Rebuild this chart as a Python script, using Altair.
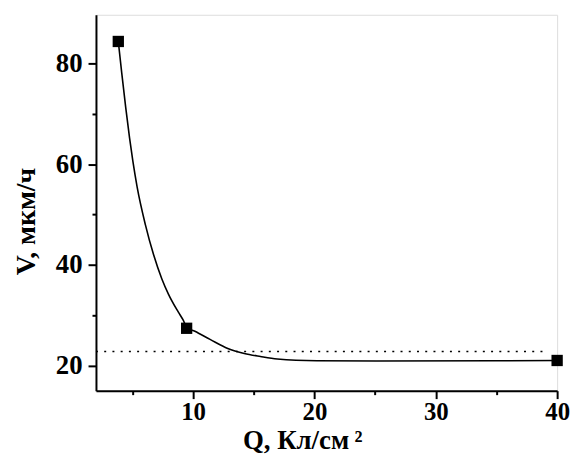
import altair as alt
import pandas as pd

# measured points
pt_q = [3.84, 9.47, 40.0]
pt_v = [84.4, 27.4, 21.0]

# fitted curve
curve_q = [3.84, 4.12, 4.45, 4.77, 5.04, 5.39, 6.07, 6.75, 7.43, 7.97, 8.79, 9.19, 9.47,
           10.15, 11.4, 12.86, 14.22, 15.55, 16.94, 20.2, 25.1, 40.0]
curve_v = [84.4, 78.2, 71.3, 65.2, 60.6, 55.5, 48.0, 42.0, 37.2, 34.2, 30.6, 29.0, 27.6,
           26.8, 25.2, 23.4, 22.4, 21.8, 21.3, 20.95, 20.9, 21.0]

# dotted reference level
ref_v = [22.8]
ref_q0 = [2.0]
ref_q1 = [39.2]

x_ticks = [5, 10, 15, 20, 25, 30, 35, 40]
y_ticks = [20, 30, 40, 50, 60, 70, 80]

FONT = "Liberation Serif"

pts = pd.DataFrame({"q": pt_q, "v": pt_v})
crv = pd.DataFrame({"q": curve_q, "v": curve_v})
ref = pd.DataFrame({"q": ref_q0, "q2": ref_q1, "v": ref_v})

xs = alt.Scale(domain=[2, 40], nice=False, zero=False)
ys = alt.Scale(domain=[15, 89.7], nice=False, zero=False)

x_axis = alt.Axis(
    title="Q, Кл/см\u2009²", values=x_ticks,
    labelExpr="datum.value % 10 === 0 ? datum.label : ''",
    tickSize={"condition": {"test": "datum.value % 10 === 0", "value": 8}, "value": 4},
    grid=False, domainColor="black", domainWidth=2, tickColor="black", tickWidth=2,
    labelFont=FONT, labelFontSize=25, labelFontWeight="bold", labelColor="black",
    labelPadding=1, labelFlush=False,
    titleFont=FONT, titleFontSize=27, titleFontWeight="bold", titleColor="black",
    titleX=208, titleY=58, titleBaseline="alphabetic", titleAnchor="middle",
)
y_axis = alt.Axis(
    title="V, мкм/ч", values=y_ticks,
    labelExpr="datum.value % 20 === 0 ? datum.label : ''",
    tickSize={"condition": {"test": "datum.value % 20 === 0", "value": 8}, "value": 4},
    grid=False, domainColor="black", domainWidth=2, tickColor="black", tickWidth=2,
    labelFont=FONT, labelFontSize=27, labelFontWeight="bold", labelColor="black",
    labelPadding=6, labelFlush=False,
    titleFont=FONT, titleFontSize=28, titleFontWeight="bold", titleColor="black",
    titleX=-62, titleY=208, titleBaseline="alphabetic", titleAngle=-90,
)

line = alt.Chart(crv).mark_line(color="black", strokeWidth=1.6, interpolate="monotone").encode(
    x=alt.X("q:Q", scale=xs, axis=x_axis),
    y=alt.Y("v:Q", scale=ys, axis=y_axis),
    order="q:Q",
)
dots = alt.Chart(ref).mark_rule(color="black", strokeWidth=1.6, strokeDash=[2, 6.3]).encode(
    x="q:Q", x2="q2:Q", y="v:Q"
)
squares = alt.Chart(pts).mark_square(color="black", size=130, opacity=1).encode(
    x="q:Q", y="v:Q"
)

chart = alt.layer(dots, line, squares).properties(
    width=465, height=379,
    autosize=alt.AutoSizeParams(type="none"),
    padding={"left": 88.7, "top": 5, "right": 16, "bottom": 62},
).configure_view(stroke=None).configure(background="white")

chart.save("out.html", embed_options={"renderer": "svg", "actions": False})
